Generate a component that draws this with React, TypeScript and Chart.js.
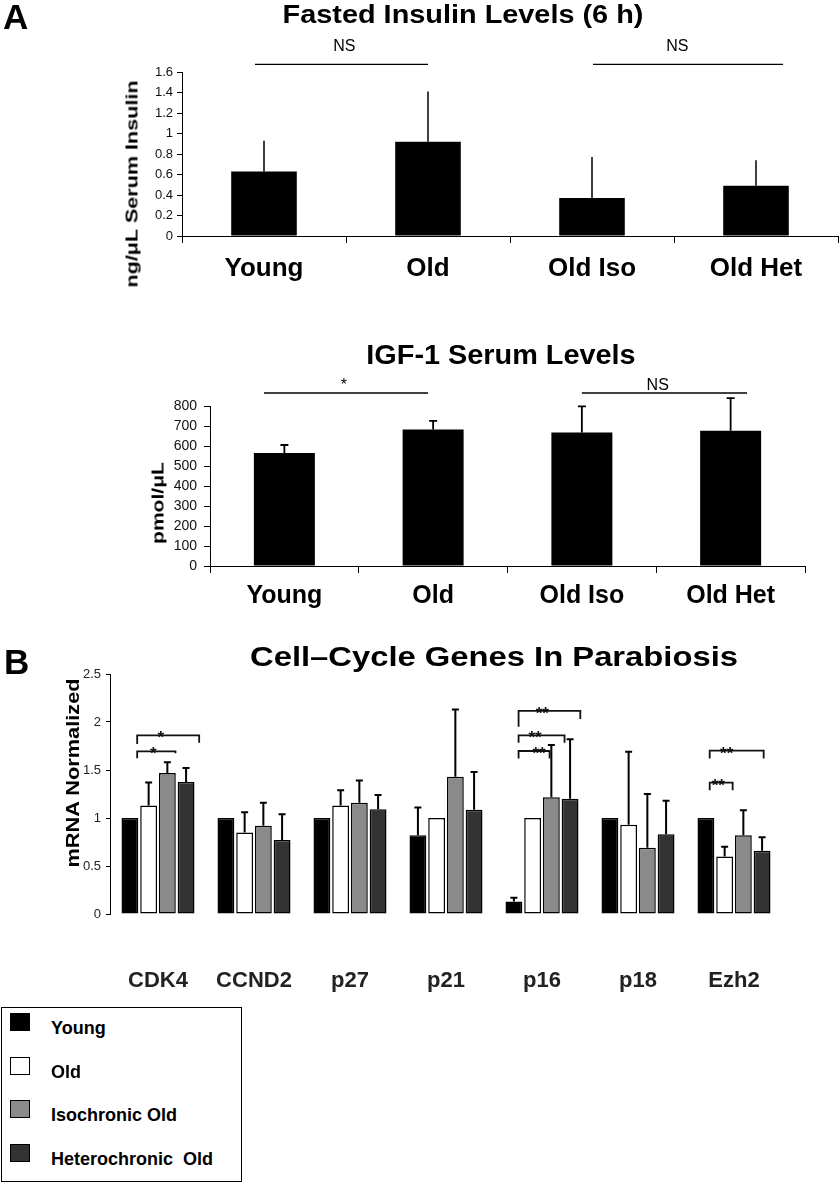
import React, { useEffect, useRef } from "react";
import { Chart, registerables } from "chart.js";

Chart.register(...registerables);

const FONT = "'Liberation Sans', Arial, Helvetica, sans-serif";
Chart.defaults.font.family = FONT;

// ---------- Panel A: fasted insulin ----------
const insulinGroups = ["Young", "Old", "Old Iso", "Old Het"];
const insulinMean = [0.63, 0.92, 0.37, 0.49];
const insulinErr = [0.3, 0.49, 0.4, 0.25];
const insulinTicks = ["0", "0.2", "0.4", "0.6", "0.8", "1", "1.2", "1.4", "1.6"];
const insulinSig = [
  { x0: -0.055, x1: 1.0, y: 1.675, label: "NS", lx: 0.49 },
  { x0: 2.006, x1: 3.165, y: 1.675, label: "NS", lx: 2.52 },
];

// ---------- Panel A: IGF-1 ----------
const igfGroups = ["Young", "Old", "Old Iso", "Old Het"];
const igfMean = [565, 682, 668, 676];
const igfErr = [40, 44, 130, 163];
const igfTicks = ["0", "100", "200", "300", "400", "500", "600", "700", "800"];
const igfSig = [
  { x0: -0.137, x1: 0.966, y: 865, label: "*", lx: 0.4 },
  { x0: 2.0, x1: 3.11, y: 865, label: "NS", lx: 2.51 },
];

// ---------- Panel B: cell-cycle genes ----------
const genes = ["CDK4", "CCND2", "p27", "p21", "p16", "p18", "Ezh2"];
const seriesNames = ["Young", "Old", "Isochronic Old", "Heterochronic  Old"];
const seriesColors = ["#000000", "#ffffff", "#8a8a8a", "#333333"];
const youngMean = [1, 1, 1, 0.82, 0.13, 1, 1];
const youngErr = [0, 0, 0, 0.29, 0.04, 0, 0];
const oldMean = [1.13, 0.85, 1.13, 1.0, 1.0, 0.93, 0.6];
const oldErr = [0.24, 0.21, 0.16, 0, 0, 0.76, 0.1];
const isoMean = [1.47, 0.92, 1.16, 1.43, 1.215, 0.69, 0.82];
const isoErr = [0.11, 0.24, 0.23, 0.7, 0.545, 0.56, 0.26];
const hetMean = [1.375, 0.77, 1.09, 1.085, 1.2, 0.83, 0.66];
const hetErr = [0.145, 0.27, 0.15, 0.395, 0.62, 0.35, 0.14];
const geneTicks = ["0", "0.5", "1", "1.5", "2", "2.5"];
const geneSig = [
  { cat: 0, x0: -0.217, x1: 0.182, y: 1.694, yl: 1.622, yr: 1.674, label: "*", lx: -0.05 },
  { cat: 0, x0: -0.217, x1: 0.429, y: 1.861, yl: 1.771, yr: 1.785, label: "*", lx: 0.03 },
  { cat: 4, x0: -0.244, x1: 0.079, y: 1.698, yl: 1.62, yr: 1.62, label: "**", lx: -0.031 },
  { cat: 4, x0: -0.244, x1: 0.235, y: 1.861, yl: 1.785, yr: 1.785, label: "**", lx: -0.073 },
  { cat: 4, x0: -0.244, x1: 0.399, y: 2.115, yl: 1.951, yr: 2.031, label: "**", lx: 0.003 },
  { cat: 6, x0: -0.253, x1: -0.014, y: 1.368, yl: 1.29, yr: 1.29, label: "**", lx: -0.163 },
  { cat: 6, x0: -0.253, x1: 0.309, y: 1.701, yl: 1.62, yr: 1.62, label: "**", lx: -0.076 },
];

// ---------- plugin: error bars + significance marks ----------
const annotate = {
  id: "annot",
  afterDatasetsDraw(chart: any, _args: any, opts: any) {
    const { ctx } = chart;
    const xs = chart.scales.x;
    const ys = chart.scales.y;
    ctx.save();
    ctx.strokeStyle = opts.color || "#000";
    ctx.lineWidth = opts.lineWidth || 1.5;
    ctx.lineCap = "butt";
    (opts.errors || []).forEach((errs: number[], d: number) => {
      const meta = chart.getDatasetMeta(d);
      const vals = chart.data.datasets[d].data as number[];
      meta.data.forEach((bar: any, i: number) => {
        const e = errs[i];
        if (!e) return;
        const yTop = ys.getPixelForValue(vals[i] + e);
        ctx.beginPath();
        ctx.moveTo(bar.x, bar.y);
        ctx.lineTo(bar.x, yTop);
        if (opts.cap) {
          ctx.moveTo(bar.x - opts.cap / 2, yTop);
          ctx.lineTo(bar.x + opts.cap / 2, yTop);
        }
        ctx.stroke();
      });
    });
    ctx.lineWidth = opts.sigLineWidth || 1.2;
    ctx.strokeStyle = opts.sigColor || "#000";
    ctx.fillStyle = opts.sigColor || "#000";
    ctx.font = `${opts.sigBold ? "bold " : ""}${opts.sigFontSize || 16}px ${FONT}`;
    ctx.textAlign = "center";
    ctx.textBaseline = "alphabetic";
    (opts.sig || []).forEach((s: any) => {
      const base = s.cat || 0;
      const xa = xs.getPixelForValue(base + s.x0);
      const xb = xs.getPixelForValue(base + s.x1);
      const y = ys.getPixelForValue(s.y);
      ctx.beginPath();
      if (s.yl !== undefined) {
        ctx.moveTo(xa, ys.getPixelForValue(s.yl));
        ctx.lineTo(xa, y);
        ctx.lineTo(xb, y);
        ctx.lineTo(xb, ys.getPixelForValue(s.yr));
      } else {
        ctx.moveTo(xa, y);
        ctx.lineTo(xb, y);
      }
      ctx.stroke();
      ctx.fillText(s.label, xs.getPixelForValue(base + s.lx), y - (opts.labelLift || 0));
    });
    ctx.restore();
  },
};

const axisGrid = (len: number) => ({
  display: true,
  drawOnChartArea: false,
  drawTicks: true,
  tickLength: len,
  color: "#000",
  lineWidth: 1,
});

function insulinConfig(): any {
  return {
    type: "bar",
    data: {
      labels: insulinGroups,
      datasets: [
        { data: insulinMean, backgroundColor: "#000", borderWidth: 0, barPercentage: 0.4, categoryPercentage: 1 },
      ],
    },
    options: {
      animation: false,
      responsive: false,
      devicePixelRatio: 1,
      layout: { padding: { left: 100, top: 72, right: 2, bottom: 0 } },
      plugins: {
        legend: { display: false },
        tooltip: { enabled: false },
        annot: { errors: [insulinErr], cap: 0, lineWidth: 1.5, sig: insulinSig, sigFontSize: 16, labelLift: 13, sigLineWidth: 1.3 },
      },
      scales: {
        x: {
          grid: { ...axisGrid(7), offset: true },
          border: { display: true, color: "#000", width: 1 },
          ticks: { font: { size: 26, weight: "bold" }, color: "#000", padding: 10, maxRotation: 0, autoSkip: false },
          afterFit: (s: any) => { s.height = 64; },
        },
        y: {
          min: 0,
          max: 1.6,
          grid: axisGrid(5),
          border: { display: true, color: "#000", width: 1 },
          ticks: { stepSize: 0.2, font: { size: 13 }, color: "#111", padding: 4, callback: (_v: any, i: number) => insulinTicks[i] },
          afterFit: (s: any) => { s.width = 82; },
        },
      },
    },
    plugins: [annotate],
  };
}

function igfConfig(): any {
  return {
    type: "bar",
    data: {
      labels: igfGroups,
      datasets: [
        { data: igfMean, backgroundColor: "#000", borderWidth: 0, barPercentage: 0.41, categoryPercentage: 1 },
      ],
    },
    options: {
      animation: false,
      responsive: false,
      devicePixelRatio: 1,
      layout: { padding: { left: 120, top: 106, right: 35, bottom: 0 } },
      plugins: {
        legend: { display: false },
        tooltip: { enabled: false },
        annot: { errors: [igfErr], cap: 8, lineWidth: 1.8, sig: igfSig, sigFontSize: 16, labelLift: 3.5, sigLineWidth: 1.3 },
      },
      scales: {
        x: {
          grid: { ...axisGrid(7), offset: true },
          border: { display: true, color: "#000", width: 1 },
          ticks: { font: { size: 25, weight: "bold" }, color: "#000", padding: 8, maxRotation: 0, autoSkip: false },
          afterFit: (s: any) => { s.height = 64; },
        },
        y: {
          min: 0,
          max: 800,
          grid: axisGrid(6),
          border: { display: true, color: "#000", width: 1 },
          ticks: { stepSize: 100, font: { size: 14 }, color: "#111", padding: 7, callback: (_v: any, i: number) => igfTicks[i] },
          afterFit: (s: any) => { s.width = 90; },
        },
      },
    },
    plugins: [annotate],
  };
}

function geneConfig(): any {
  const means = [youngMean, oldMean, isoMean, hetMean];
  return {
    type: "bar",
    data: {
      labels: genes,
      datasets: means.map((m, i) => ({
        label: seriesNames[i],
        data: m,
        backgroundColor: seriesColors[i],
        borderColor: "#000",
        borderWidth: 1.5,
        borderSkipped: false,
        barPercentage: 0.9,
        categoryPercentage: 0.78,
      })),
    },
    options: {
      animation: false,
      responsive: false,
      devicePixelRatio: 1,
      layout: { padding: { left: 30, top: 44, right: 58, bottom: 0 } },
      plugins: {
        legend: { display: false },
        tooltip: { enabled: false },
        annot: {
          errors: [youngErr, oldErr, isoErr, hetErr],
          cap: 7,
          lineWidth: 2,
          sig: geneSig,
          sigFontSize: 17,
          sigBold: true,
          labelLift: -8,
          sigLineWidth: 1.8,
          sigColor: "#111",
        },
      },
      scales: {
        x: {
          grid: { display: false },
          border: { display: false },
          ticks: { font: { size: 22, weight: "bold" }, color: "#222", padding: 46, maxRotation: 0, autoSkip: false },
          afterFit: (s: any) => { s.height = 86; },
        },
        y: {
          min: 0,
          max: 2.5,
          grid: axisGrid(4),
          border: { display: true, color: "#000", width: 1 },
          ticks: { stepSize: 0.5, font: { size: 13 }, color: "#222", padding: 5, callback: (_v: any, i: number) => geneTicks[i] },
          afterFit: (s: any) => { s.width = 80; },
        },
      },
    },
    plugins: [annotate],
  };
}

function ChartCanvas({ top, height, make }: { top: number; height: number; make: () => any }) {
  const ref = useRef<HTMLCanvasElement>(null);
  useEffect(() => {
    const chart = new Chart(ref.current as HTMLCanvasElement, make());
    return () => chart.destroy();
  }, []);
  return (
    <canvas
      ref={ref}
      width={840}
      height={height}
      style={{ position: "absolute", left: 0, top, width: 840, height, display: "block" }}
    />
  );
}

function Txt({
  x, y, size, text, bold = true, sx = 1, rotate = false, left = false, color = "#000",
}: {
  x: number; y: number; size: number; text: string; bold?: boolean; sx?: number; rotate?: boolean; left?: boolean; color?: string;
}) {
  const transform = rotate
    ? `translate(-50%, -50%) rotate(-90deg) scaleX(${sx})`
    : left
    ? `translate(0, -50%) scaleX(${sx})`
    : `translate(-50%, -50%) scaleX(${sx})`;
  return (
    <div
      style={{
        position: "absolute",
        left: x,
        top: y,
        fontFamily: FONT,
        fontSize: size,
        lineHeight: `${size}px`,
        fontWeight: bold ? 700 : 400,
        whiteSpace: "pre",
        color,
        transform,
        transformOrigin: left ? "0 50%" : "50% 50%",
      }}
    >
      {text}
    </div>
  );
}

export default function App() {
  return (
    <div
      style={{
        position: "absolute",
        left: 0,
        top: 0,
        width: 840,
        height: 1183,
        overflow: "hidden",
        background: "#fff",
        fontFamily: FONT,
      }}
    >
      <ChartCanvas top={0} height={300} make={insulinConfig} />
      <ChartCanvas top={300} height={330} make={igfConfig} />
      <ChartCanvas top={630} height={370} make={geneConfig} />

      <Txt x={3} y={16} size={35} text="A" left />
      <Txt x={4} y={661} size={35} text="B" left />

      <Txt x={463} y={14.2} size={26} sx={1.11} text="Fasted Insulin Levels (6 h)" />
      <Txt x={500.5} y={355} size={28} sx={1.03} text="IGF-1 Serum Levels" />
      <Txt x={493.5} y={656.7} size={28} sx={1.17} text="Cell–Cycle Genes In Parabiosis" />

      <Txt x={131.5} y={183.5} size={17} sx={1.27} rotate text="ng/μL Serum Insulin" />
      <Txt x={157.5} y={503} size={17} sx={1.24} rotate text="pmol/μL" />
      <Txt x={73.2} y={773} size={18} sx={1.21} rotate text="mRNA Normalized" />

      <div
        style={{
          position: "absolute",
          left: 1,
          top: 1007,
          width: 241,
          height: 175,
          border: "1px solid #000",
          boxSizing: "border-box",
        }}
      />
      {seriesNames.map((name, i) => (
        <React.Fragment key={name}>
          <div
            style={{
              position: "absolute",
              left: 10,
              top: 1013 + i * 43.7,
              width: 20,
              height: 18,
              background: seriesColors[i],
              border: "1.5px solid #000",
              boxSizing: "border-box",
            }}
          />
          <Txt x={51} y={1028 + i * 43.7} size={18} text={name} left />
        </React.Fragment>
      ))}
    </div>
  );
}
